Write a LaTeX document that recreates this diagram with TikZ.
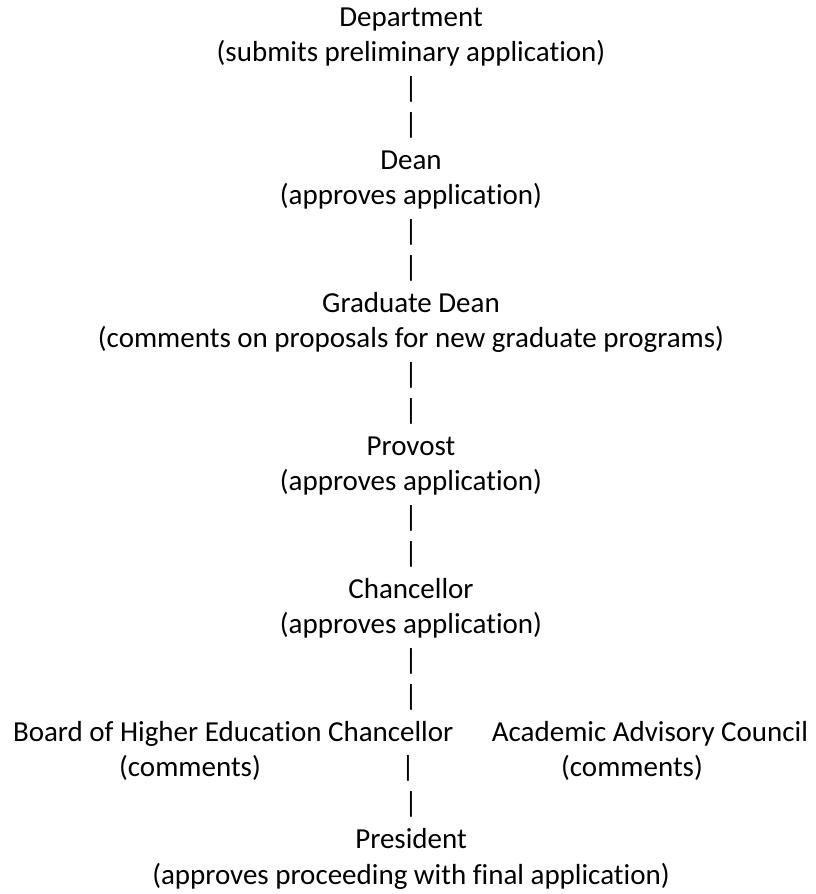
\documentclass[tikz,border=0pt]{standalone}
\usepackage{fontspec}
\setmainfont{Carlito}[Ligatures={NoCommon,NoContextual}]
\begin{document}
\begin{tikzpicture}[x=1pt,y=-1pt,
  txt/.style={anchor=base,inner sep=0pt,outer sep=0pt,font=\fontsize{29pt}{35pt}\selectfont,text=black},
  bar/.style={txt}]
\useasboundingbox (0,0) rectangle (815,894);
\def\cx{411}
% line k baseline = 26 + 35.75 k
\node[txt] (dept)  at (\cx, 26.00) {Department};
\node[txt] (deptc) at (\cx, 61.75) {(submits preliminary application)};
\node[bar] (b1) at (\cx, 97.50) {|};
\node[bar] (b2) at (\cx,133.25) {|};
\node[txt] (dean)  at (\cx,169.00) {Dean};
\node[txt] (deanc) at (\cx,204.75) {(approves application)};
\node[bar] (b3) at (\cx,240.50) {|};
\node[bar] (b4) at (\cx,276.25) {|};
\node[txt] (grad)  at (\cx,312.00) {Graduate Dean};
\node[txt] (gradc) at (\cx,347.75) {(comments on proposals for new graduate programs)};
\node[bar] (b5) at (\cx,383.50) {|};
\node[bar] (b6) at (\cx,419.25) {|};
\node[txt] (prov)  at (\cx,455.00) {Provost};
\node[txt] (provc) at (\cx,490.75) {(approves application)};
\node[bar] (b7) at (\cx,526.50) {|};
\node[bar] (b8) at (\cx,562.25) {|};
\node[txt] (chan)  at (\cx,598.00) {Chancellor};
\node[txt] (chanc) at (\cx,633.75) {(approves application)};
\node[bar] (b9)  at (\cx,669.50) {|};
\node[bar] (b10) at (\cx,705.25) {|};
\node[txt,anchor=base west] (bhe)  at (13,741.00) {Board of Higher Education Chancellor};
\node[txt,anchor=base east] (aac)  at (808,741.00) {Academic Advisory Council};
\node[txt] (bhec) at (190,776.75) {(comments)};
\node[bar] (b11)  at (408,776.75) {|};
\node[txt] (aacc) at (632,776.75) {(comments)};
\node[bar] (b12)  at (\cx,812.50) {|};
\node[txt] (pres)  at (\cx,848.25) {President};
\node[txt] (presc) at (\cx,884.00) {(approves proceeding with final application)};
\end{tikzpicture}
\end{document}
